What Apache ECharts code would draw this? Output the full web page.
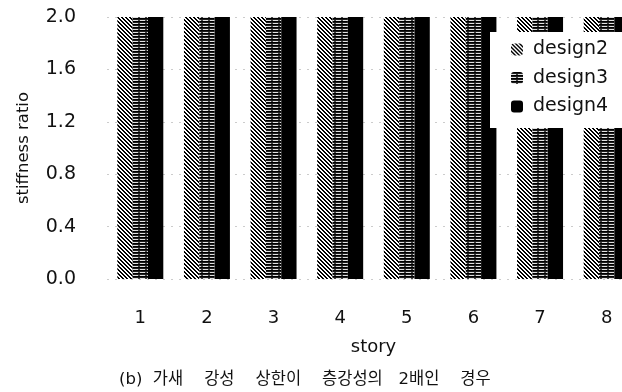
<!DOCTYPE html>
<html>
<head>
<meta charset="utf-8">
<script src="https://cdn.jsdelivr.net/npm/echarts@6/dist/echarts.min.js"></script>
<style>
html,body{margin:0;padding:0;background:#fff;}
#chart{width:622px;height:392px;}
</style>
</head>
<body>
<div id="chart"></div>
<script>
const categories = ['1','2','3','4','5','6','7','8'];
const design2 = [2.0, 2.0, 2.0, 2.0, 2.0, 2.0, 2.0, 2.0];
const design3 = [2.0, 2.0, 2.0, 2.0, 2.0, 2.0, 2.0, 2.0];
const design4 = [2.0, 2.0, 2.0, 2.0, 2.0, 2.0, 2.0, 2.0];
const yTicks = [0.0, 0.4, 0.8, 1.2, 1.6, 2.0];
const caption = '(b)  가새    강성    상한이    층강성의   2배인    경우';

function makePattern(w, h, fn) {
  const c = document.createElement('canvas');
  c.width = w; c.height = h;
  const ctx = c.getContext('2d');
  const img = ctx.createImageData(w, h);
  for (let y = 0; y < h; y++) {
    for (let x = 0; x < w; x++) {
      const v = fn(x, y);
      const i = (y * w + x) * 4;
      img.data[i] = v; img.data[i+1] = v; img.data[i+2] = v; img.data[i+3] = 255;
    }
  }
  ctx.putImageData(img, 0, 0);
  return {image: c, repeat: 'repeat'};
}
const hatch = makePattern(4, 4, (x, y) => (((x - y) % 4 + 4) % 4) < 2 ? 0 : 255);
const horiz = makePattern(7, 3, (x, y) => y === 2 ? (x % 7 < 5 ? 225 : 70) : (y === 1 ? 30 : 0));

const chart = echarts.init(document.getElementById('chart'));
const font = 'DejaVu Sans, sans-serif';
chart.setOption({
  animation: false,
  backgroundColor: '#fff',
  grid: {left: 107, width: 533, top: 17, bottom: 113, containLabel: false, outerBoundsMode: 'none'},
  title: {
    text: caption, left: 114, top: 366,
    textStyle: {fontFamily: 'DejaVu Sans, Noto Sans CJK KR', fontSize: 16.5, fontWeight: 'normal', color: '#111'}
  },
  legend: {
    orient: 'vertical', left: 490, top: 32,
    backgroundColor: '#fff',
    padding: [8, 40, 12, 21],
    itemWidth: 12, itemHeight: 12, itemGap: 9.5,
    textStyle: {fontFamily: font, fontSize: 19, color: '#111', padding: [0, 0, 0, 5]},
    data: ['design2', 'design3', 'design4']
  },
  xAxis: {
    type: 'category', data: categories,
    axisLine: {show: false}, axisTick: {show: false},
    axisLabel: {margin: 30, fontFamily: font, fontSize: 18, color: '#111'},
    name: 'story', nameLocation: 'middle', nameGap: 59,
    nameTextStyle: {fontFamily: font, fontSize: 18, color: '#111'}
  },
  yAxis: {
    type: 'value', min: 0, max: 2, interval: 0.4,
    axisLine: {show: false}, axisTick: {show: false},
    splitLine: {show: true, lineStyle: {color: '#ccc', type: [2, 6], width: 1}},
    axisLabel: {margin: 31, fontFamily: font, fontSize: 19, color: '#111',
      formatter: v => yTicks.find(t => Math.abs(t - v) < 1e-6).toFixed(1)},
    name: 'stiffness ratio', nameLocation: 'middle', nameGap: 75, nameRotate: 90,
    nameTextStyle: {fontFamily: font, fontSize: 16.5, color: '#111'}
  },
  series: [
    {name: 'design2', type: 'bar', data: design2, barGap: '0%', barCategoryGap: '31%', itemStyle: {color: hatch}},
    {name: 'design3', type: 'bar', data: design3, itemStyle: {color: horiz}},
    {name: 'design4', type: 'bar', data: design4, itemStyle: {color: '#000'}}
  ]
});
</script>
</body>
</html>
